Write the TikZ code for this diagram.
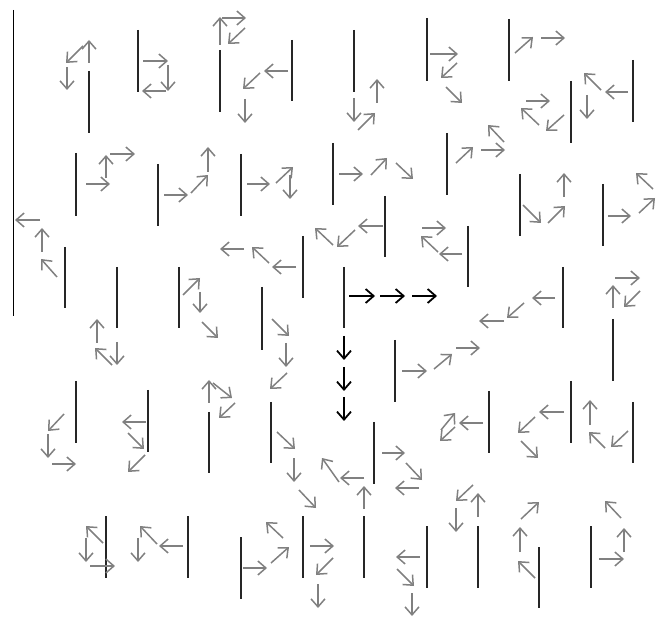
\documentclass[tikz,border=0pt]{standalone}
\usetikzlibrary{arrows.meta}
\begin{document}
\begin{tikzpicture}[x=1pt,y=-1pt,
  bar/.style={line width=1.9pt, draw=black!85},
  arr/.style={line width=1.5pt, draw=black!50, -{Straight Barb[length=8pt,width=14pt]}},
  boldarr/.style={line width=1.8pt, draw=black, -{Straight Barb[length=8pt,width=14pt]}}]
\useasboundingbox (0,0) rectangle (664,617);
\draw[line width=1pt] (13,10) -- (13,316);
% bars
\foreach \x/\ya/\yb in {89/71/133, 138/30/92, 220/50/112, 292/40/101, 354/30/92, 427/18/81, 509/19/81, 571/81/143, 633/60/122,
  76/153/216, 158/164/226, 241/154/216, 333/143/205, 447/133/195, 520/174/236, 603/184/246,
  65/247/308, 117/267/328, 179/267/328, 262/287/350, 303/236/298, 344/267/328, 385/196/257, 468/226/287, 563/267/328, 613/319/381,
  76/381/443, 148/390/452, 209/412/473, 271/402/463, 395/340/402, 374/422/484, 489/391/453, 571/381/443, 633/402/463,
  106/516/578, 188/516/578, 241/537/599, 303/516/578, 364/516/578, 427/526/588, 478/526/588, 539/547/608, 591/526/588}
  \draw[bar] (\x,\ya) -- (\x,\yb);
% first row
\draw[arr] (89,63) -- (89,40);
\draw[arr] (83,46) -- (66,63);
\draw[arr] (67,67) -- (67,90);
\draw[arr] (143,61) -- (168,61);
\draw[arr] (168,65) -- (168,91);
\draw[arr] (166,91) -- (142,91);
\draw[arr] (220,45) -- (220,17);
\draw[arr] (222,18) -- (246,18);
\draw[arr] (245,28) -- (228,44);
\draw[arr] (288,71) -- (264,71);
\draw[arr] (260,73) -- (243,89);
\draw[arr] (245,99) -- (245,123);
\draw[arr] (354,98) -- (354,122);
\draw[arr] (358,130) -- (375,113);
\draw[arr] (377,103) -- (377,79);
\draw[arr] (430,54) -- (458,54);
\draw[arr] (457,63) -- (441,78);
\draw[arr] (446,87) -- (462,103);
\draw[arr] (515,53) -- (533,37);
\draw[arr] (541,38) -- (565,38);
\draw[arr] (564,115) -- (546,131);
\draw[arr] (539,125) -- (521,108);
\draw[arr] (526,101) -- (550,101);
\draw[arr] (628,92) -- (605,92);
\draw[arr] (601,90) -- (584,73);
\draw[arr] (587,95) -- (587,119);
% second row
\draw[arr] (86,184) -- (110,184);
\draw[arr] (106,178) -- (106,155);
\draw[arr] (110,154) -- (135,154);
\draw[arr] (164,195) -- (188,195);
\draw[arr] (191,193) -- (208,175);
\draw[arr] (208,172) -- (208,147);
\draw[arr] (247,184) -- (270,184);
\draw[arr] (276,183) -- (293,167);
\draw[arr] (290,175) -- (290,199);
\draw[arr] (339,174) -- (363,174);
\draw[arr] (371,175) -- (387,158);
\draw[arr] (396,163) -- (413,179);
\draw[arr] (456,163) -- (473,147);
\draw[arr] (481,150) -- (505,150);
\draw[arr] (504,142) -- (488,125);
\draw[arr] (523,205) -- (541,223);
\draw[arr] (548,223) -- (565,206);
\draw[arr] (564,197) -- (564,173);
\draw[arr] (608,216) -- (631,216);
\draw[arr] (639,213) -- (655,198);
\draw[arr] (653,189) -- (636,173);
% third row
\draw[arr] (57,277) -- (41,259);
\draw[arr] (42,252) -- (42,228);
\draw[arr] (40,220) -- (15,220);
\draw[arr] (117,342) -- (117,365);
\draw[arr] (112,365) -- (95,348);
\draw[arr] (97,343) -- (97,319);
\draw[arr] (183,295) -- (200,278);
\draw[arr] (200,292) -- (200,313);
\draw[arr] (202,322) -- (218,338);
\draw[arr] (272,319) -- (289,336);
\draw[arr] (286,343) -- (286,367);
\draw[arr] (287,373) -- (270,389);
\draw[arr] (296,267) -- (272,267);
\draw[arr] (269,263) -- (252,247);
\draw[arr] (244,249) -- (220,249);
\draw[boldarr] (349,296) -- (375,296);
\draw[boldarr] (380,296) -- (405,296);
\draw[boldarr] (412,296) -- (437,296);
\draw[boldarr] (344,336) -- (344,360);
\draw[boldarr] (344,367) -- (344,391);
\draw[boldarr] (344,397) -- (344,421);
\draw[arr] (383,226) -- (358,226);
\draw[arr] (355,230) -- (337,247);
\draw[arr] (333,245) -- (315,228);
\draw[arr] (462,254) -- (439,254);
\draw[arr] (438,252) -- (421,236);
\draw[arr] (422,228) -- (446,228);
\draw[arr] (555,298) -- (532,298);
\draw[arr] (524,303) -- (507,318);
\draw[arr] (504,321) -- (479,321);
\draw[arr] (613,308) -- (613,285);
\draw[arr] (615,278) -- (640,278);
\draw[arr] (640,291) -- (624,307);
% fourth row
\draw[arr] (64,414) -- (48,431);
\draw[arr] (48,434) -- (48,458);
\draw[arr] (52,464) -- (76,464);
\draw[arr] (146,422) -- (122,422);
\draw[arr] (128,433) -- (144,449);
\draw[arr] (145,455) -- (128,472);
\draw[arr] (209,403) -- (209,380);
\draw[arr] (213,383) -- (232,398);
\draw[arr] (235,403) -- (219,418);
\draw[arr] (277,432) -- (295,449);
\draw[arr] (294,458) -- (294,482);
\draw[arr] (299,490) -- (316,508);
\draw[arr] (402,371) -- (427,371);
\draw[arr] (434,369) -- (452,354);
\draw[arr] (456,348) -- (480,348);
\draw[arr] (382,453) -- (405,453);
\draw[arr] (406,463) -- (422,480);
\draw[arr] (419,488) -- (395,488);
\draw[arr] (483,423) -- (459,423);
\draw[arr] (455,427) -- (440,441);
\draw[arr] (441,430) -- (455,413);
\draw[arr] (564,412) -- (539,412);
\draw[arr] (535,417) -- (518,433);
\draw[arr] (521,441) -- (538,458);
\draw[arr] (628,431) -- (611,447);
\draw[arr] (605,448) -- (589,432);
\draw[arr] (590,425) -- (590,400);
% fifth row
\draw[arr] (103,543) -- (86,526);
\draw[arr] (86,538) -- (86,562);
\draw[arr] (90,566) -- (115,566);
\draw[arr] (183,546) -- (159,546);
\draw[arr] (157,544) -- (140,526);
\draw[arr] (138,538) -- (138,562);
\draw[arr] (243,568) -- (267,568);
\draw[arr] (271,563) -- (289,547);
\draw[arr] (283,538) -- (266,522);
\draw[arr] (310,546) -- (334,546);
\draw[arr] (333,558) -- (316,575);
\draw[arr] (318,584) -- (318,608);
\draw[arr] (364,509) -- (364,486);
\draw[arr] (364,478) -- (340,478);
\draw[arr] (339,482) -- (322,458);
\draw[arr] (420,557) -- (396,557);
\draw[arr] (397,569) -- (414,586);
\draw[arr] (412,593) -- (412,616);
\draw[arr] (478,517) -- (478,493);
\draw[arr] (473,485) -- (456,501);
\draw[arr] (456,508) -- (456,532);
\draw[arr] (535,578) -- (518,561);
\draw[arr] (520,552) -- (520,527);
\draw[arr] (521,519) -- (539,502);
\draw[arr] (599,559) -- (624,559);
\draw[arr] (624,552) -- (624,528);
\draw[arr] (621,518) -- (605,501);
\end{tikzpicture}
\end{document}
